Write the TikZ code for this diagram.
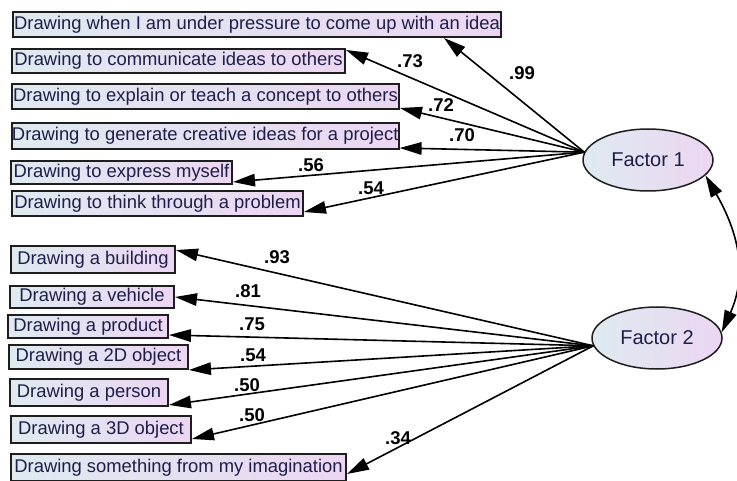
\documentclass[tikz,border=0pt]{standalone}
\usepackage{fontspec}
\setmainfont{Liberation Sans}
\usetikzlibrary{arrows.meta,shapes.geometric}
\definecolor{boxL}{RGB}{222,234,240}
\definecolor{boxR}{RGB}{236,214,242}
\definecolor{txt}{RGB}{30,30,72}
\definecolor{edge}{RGB}{30,30,30}
\begin{document}
\begin{tikzpicture}[x=1pt,y=1pt,
  box/.style={draw=edge, line width=2pt, left color=boxL, right color=boxR,
    anchor=north west, inner sep=0pt, text=txt, font=\fontsize{18.4}{20}\selectfont},
  fac/.style={ellipse, draw=edge, line width=1.5pt, left color=boxL, right color=boxR,
    minimum width=130pt, minimum height=62pt, inner sep=0pt, text=txt,
    font=\fontsize{20}{22}\selectfont},
  lab/.style={font=\bfseries\fontsize{18.5}{20}\selectfont, inner sep=0pt},
  load/.style={line width=1.6pt, -{Triangle[length=22pt,width=12.5pt]}},
  corr/.style={line width=1.6pt, {Triangle[length=22pt,width=12.5pt]}-{Triangle[length=22pt,width=12.5pt]}}
]
\useasboundingbox (0,0) rectangle (737,-481);

% factors
\node[fac] (f1) at (648,-160) {Factor 1};
\node[fac] (f2) at (657,-338) {Factor 2};

% indicator boxes
\node[box, minimum width=488pt, minimum height=25pt] (b1) at (12,-11) {Drawing when I am under pressure to come up with an idea};
\node[box, minimum width=333pt, minimum height=24pt] (b2) at (11,-48) {Drawing to communicate ideas to others};
\node[box, minimum width=387pt, minimum height=25pt] (b3) at (11,-83) {Drawing to explain or teach a concept to others};
\node[box, minimum width=385pt, minimum height=26pt] (b4) at (11,-122) {Drawing to generate creative ideas for a project};
\node[box, minimum width=221pt, minimum height=23pt] (b5) at (10,-160) {Drawing to express myself};
\node[box, minimum width=291pt, minimum height=25pt] (b6) at (11,-190) {Drawing to think through a problem};

\node[box, minimum width=164pt, minimum height=27pt] (b7) at (10,-245) {Drawing a building};
\node[box, minimum width=164pt, minimum height=22pt] (b8) at (9,-285) {Drawing a vehicle};
\node[box, minimum width=160pt, minimum height=23pt] (b9) at (7,-314) {Drawing a product};
\node[box, minimum width=179pt, minimum height=24pt] (b10) at (8,-344) {Drawing a 2D object};
\node[box, minimum width=158pt, minimum height=27pt] (b11) at (9,-378) {Drawing a person};
\node[box, minimum width=180pt, minimum height=27pt] (b12) at (10,-415) {Drawing a 3D object};
\node[box, minimum width=335pt, minimum height=27pt] (b13) at (10,-453) {Drawing something from my imagination};

% loadings factor 1
\draw[load] (f1.173) -- ([xshift=-58pt]b1.south east);
\draw[load] (f1.173) -- ([yshift=-2pt]b2.north east);
\draw[load] (f1.173) -- ([yshift=2pt]b3.south east);
\draw[load] (f1.173) -- ([yshift=2pt]b4.south east);
\draw[load] (f1.173) -- ([yshift=3pt]b5.south east);
\draw[load] (f1.173) -- ([yshift=5pt]b6.south east);

% loadings factor 2
\draw[load] (f2.187) -- ([yshift=-5pt]b7.north east);
\draw[load] (f2.187) -- (b8.east);
\draw[load] (f2.187) -- ([yshift=4pt]b9.south east);
\draw[load] (f2.187) -- (b10.south east);
\draw[load] (f2.187) -- ([yshift=2pt]b11.south east);
\draw[load] (f2.187) -- ([yshift=5pt]b12.south east);
\draw[load] (f2.187) -- ([yshift=8pt]b13.south east);

% correlation
\draw[corr] (f1.-15) to[out=-60,in=66,looseness=1.05] (f2.5);

% labels
\node[lab] (l1) at (522,-73) {.99};
\node[lab] (l2) at (410,-61) {.73};
\node[lab] (l3) at (441,-105) {.72};
\node[lab] (l4) at (462,-135) {.70};
\node[lab] (l5) at (311,-165) {.56};
\node[lab] (l6) at (371,-188) {.54};
\node[lab] (l7) at (277,-257) {.93};
\node[lab] (l8) at (248,-291) {.81};
\node[lab] (l9) at (252,-324) {.75};
\node[lab] (l10) at (253,-355) {.54};
\node[lab] (l11) at (247,-385) {.50};
\node[lab] (l12) at (252,-415) {.50};
\node[lab] (l13) at (398,-438) {.34};
\end{tikzpicture}
\end{document}
